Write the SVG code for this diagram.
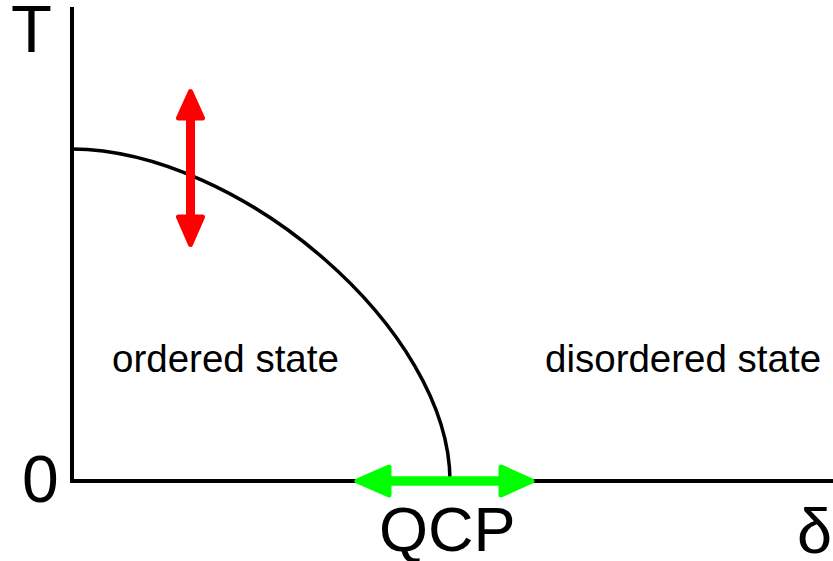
<svg xmlns="http://www.w3.org/2000/svg" width="833" height="561" viewBox="0 0 833 561">
<style>
.ax{fill:none;stroke:#000;stroke-width:4}
.cv{fill:none;stroke:#000;stroke-width:3.5}
.t{font-family:"Liberation Sans",Arial,sans-serif;fill:#000}
.red{fill:#ff0000;stroke:#ff0000;stroke-linejoin:round;stroke-width:5}
.grn{fill:#00ff00;stroke:#00ff00;stroke-linejoin:round;stroke-width:5}
</style>
<rect width="833" height="561" fill="#fff"/>
<g id="axes">
<path class="ax" d="M72,7 V481 H833"/>
</g>
<g id="boundary">
<path class="cv" d="M72,149 C240,150 450,330 450,481"/>
</g>
<g id="connectors">
<g id="red-arrow">
<line x1="190.5" y1="115" x2="190.5" y2="220" stroke="#ff0000" stroke-width="9"/>
<polygon class="red" points="190.5,91.5 178.5,118 202.5,118"/>
<polygon class="red" points="190.5,244.5 178.5,217 202.5,217"/>
</g>
<g id="green-arrow">
<line x1="386" y1="481" x2="504" y2="481" stroke="#00ff00" stroke-width="9.5"/>
<polygon class="grn" points="357,481 389,467 389,495"/>
<polygon class="grn" points="532,481 501,467 501,495"/>
</g>
</g>
<g id="labels">
<text class="t" x="11" y="52" font-size="67">T</text>
<text class="t" x="22" y="502" font-size="66">0</text>
<text class="t" x="379" y="551" font-size="63">QCP</text>
<text class="t" x="797" y="553" font-size="63">δ</text>
<text class="t" x="112" y="372" font-size="38.5">ordered state</text>
<text class="t" x="545" y="372" font-size="38.5">disordered state</text>
</g>
</svg>
